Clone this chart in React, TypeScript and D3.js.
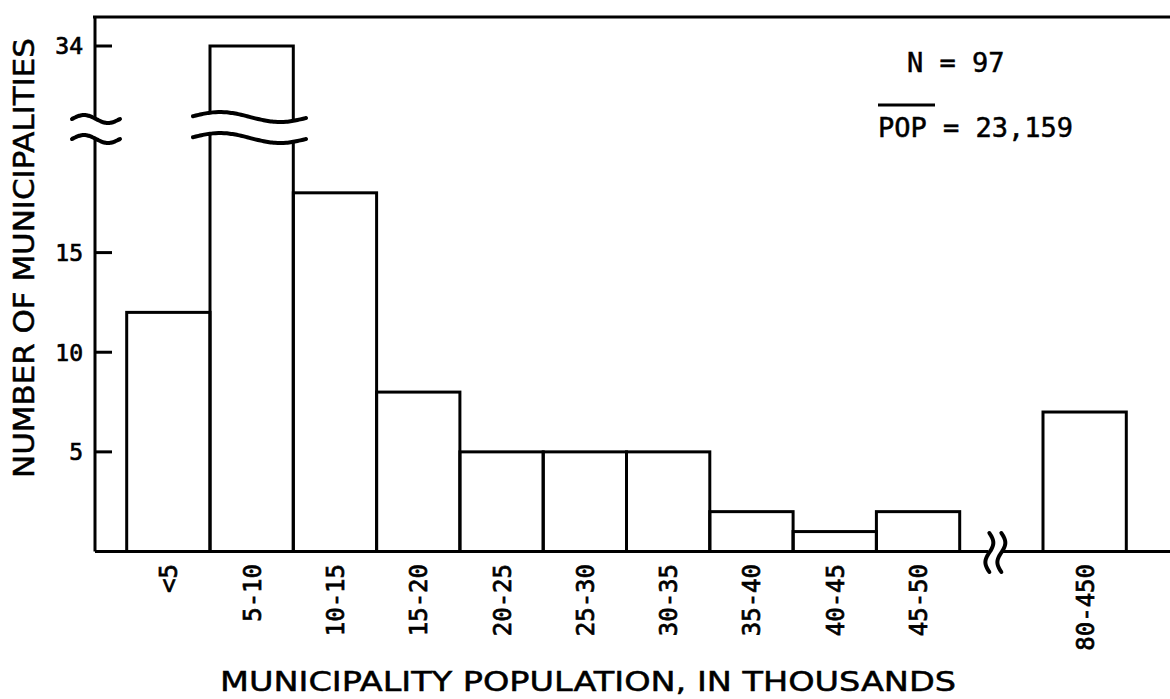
import React from "react";
import * as d3 from "d3";

const categories = ["<5", "5-10", "10-15", "15-20", "20-25", "25-30", "30-35", "35-40", "40-45", "45-50", "80-450"];
const counts = [12, 34, 18, 8, 5, 5, 5, 2, 1, 2, 7];
const slots = ["<5", "5-10", "10-15", "15-20", "20-25", "25-30", "30-35", "35-40", "40-45", "45-50", "gap", "80-450"];
const yTicks = [5, 10, 15, 34];
const annotationN = "N = 97";
const annotationPop = "POP = 23,159";

const W = 1170;
const H = 699;
const AX = 95; // y axis x
const BASE = 551.5;
const TOP = 17;
const BREAK_LO = 20.5;

const x = d3.scaleBand<string>().domain(slots).range([126.7, 126.7 + 12 * 83.3]).padding(0);
const y = d3.scaleLinear().domain([0, BREAK_LO, 33.5, 35]).range([BASE, 143, 56, 26]);

const MONO = "'DejaVu Sans Mono', monospace";
const SANS = "'DejaVu Sans', sans-serif";

function wavePath(x0: number, x1: number, fn: (t: number) => number) {
  const pts: [number, number][] = [];
  for (let i = 0; i <= 40; i++) {
    const xx = x0 + ((x1 - x0) * i) / 40;
    pts.push([xx, fn(xx)]);
  }
  return d3.line().curve(d3.curveBasis)(pts) || "";
}

function vWavePath(cx: number, y0: number, y1: number) {
  const pts: [number, number][] = [];
  for (let i = 0; i <= 30; i++) {
    const yy = y0 + ((y1 - y0) * i) / 30;
    pts.push([cx + 4 * Math.sin((2 * Math.PI * (yy - y0)) / (y1 - y0)), yy]);
  }
  return d3.line().curve(d3.curveBasis)(pts) || "";
}

export default function App() {
  const bw = x.bandwidth();
  const upperBar = (xx: number) => 117 - 5 * Math.cos((2 * Math.PI * (xx - 220)) / 120);
  const lowerBar = (xx: number) => upperBar(xx) + 21;
  const upperAx = (xx: number) => 119 - 4 * Math.sin((2 * Math.PI * (xx - 72)) / 48);
  const lowerAx = (xx: number) => upperAx(xx) + 20;
  const breakX = (x("gap") as number) + bw / 2 - 12;

  return (
    <svg width={W} height={H} style={{ position: "absolute", left: 0, top: 0, background: "#fff" }}>
      <rect x={0} y={0} width={W} height={H} fill="#fff" />
      {/* top frame line */}
      <line x1={AX - 2} x2={W} y1={TOP} y2={TOP} stroke="#000" strokeWidth={3} />
      {/* y axis, broken */}
      <line x1={AX} x2={AX} y1={TOP} y2={upperAx(AX)} stroke="#000" strokeWidth={3} />
      <line x1={AX} x2={AX} y1={lowerAx(AX)} y2={BASE} stroke="#000" strokeWidth={3} />
      <path d={wavePath(72, 120, upperAx)} fill="none" stroke="#000" strokeWidth={4} strokeLinecap="round" />
      <path d={wavePath(72, 120, lowerAx)} fill="none" stroke="#000" strokeWidth={4} strokeLinecap="round" />
      {/* x axis, broken */}
      <line x1={AX} x2={breakX - 1} y1={BASE} y2={BASE} stroke="#000" strokeWidth={3} />
      <line x1={breakX + 13} x2={W} y1={BASE} y2={BASE} stroke="#000" strokeWidth={3} />
      <path d={vWavePath(breakX, 533, 572)} fill="none" stroke="#000" strokeWidth={4} strokeLinecap="round" />
      <path d={vWavePath(breakX + 12, 533, 572)} fill="none" stroke="#000" strokeWidth={4} strokeLinecap="round" />

      {/* ticks */}
      {yTicks.map((t) => (
        <g key={t}>
          <line x1={AX} x2={AX + 17} y1={y(t)} y2={y(t)} stroke="#000" strokeWidth={3} />
          <text x={83} y={y(t)} dy="0.36em" textAnchor="end" fontFamily={MONO} fontSize={23} fill="#000" stroke="#000" strokeWidth={0.7}>
            {t}
          </text>
        </g>
      ))}

      {/* bars */}
      {categories.map((c, i) => {
        const v = counts[i];
        const x0 = x(c) as number;
        const x1 = x0 + bw;
        if (v > BREAK_LO) {
          return (
            <g key={c}>
              <path
                d={`M${x0},${upperBar(x0)}V${y(v)}H${x1}V${upperBar(x1)}`}
                fill="#fff"
                stroke="#000"
                strokeWidth={3}
              />
              <path d={`M${x0},${lowerBar(x0)}V${BASE}M${x1},${lowerBar(x1)}V${BASE}`} fill="none" stroke="#000" strokeWidth={3} />
              <path d={wavePath(193, 306, upperBar)} fill="none" stroke="#000" strokeWidth={4} strokeLinecap="round" />
              <path d={wavePath(193, 306, lowerBar)} fill="none" stroke="#000" strokeWidth={4} strokeLinecap="round" />
            </g>
          );
        }
        return (
          <rect key={c} x={x0} y={y(v)} width={bw} height={BASE - y(v)} fill="none" stroke="#000" strokeWidth={3} />
        );
      })}

      {/* category labels */}
      {categories.map((c) => {
        const cx = (x(c) as number) + bw / 2;
        return (
          <text
            key={c}
            transform={`translate(${cx + 9},${564}) rotate(-90)`}
            textAnchor="end"
            fontFamily={MONO}
            fontSize={24}
            fill="#000"
            stroke="#000"
            strokeWidth={0.7}
          >
            {c}
          </text>
        );
      })}

      {/* annotations */}
      <text x={907} y={72} fontFamily={MONO} fontSize={27} fill="#000" stroke="#000" strokeWidth={0.5} xmlSpace="preserve">
        {annotationN}
      </text>
      <line x1={878} x2={935} y1={105} y2={105} stroke="#000" strokeWidth={3} />
      <text x={878} y={137} fontFamily={MONO} fontSize={27} fill="#000" stroke="#000" strokeWidth={0.5}>
        {annotationPop}
      </text>

      {/* axis titles */}
      <text
        transform={`translate(34,258) rotate(-90)`}
        textAnchor="middle"
        fontFamily={SANS}
        fontSize={28}
        textLength={440}
        lengthAdjust="spacingAndGlyphs"
        fill="#000"
        stroke="#000"
        strokeWidth={0.5}
      >
        NUMBER OF MUNICIPALITIES
      </text>
      <text
        x={588}
        y={691}
        textAnchor="middle"
        fontFamily={SANS}
        fontSize={27}
        textLength={736}
        lengthAdjust="spacingAndGlyphs"
        fill="#000"
        stroke="#000"
        strokeWidth={0.5}
      >
        MUNICIPALITY POPULATION, IN THOUSANDS
      </text>
    </svg>
  );
}
